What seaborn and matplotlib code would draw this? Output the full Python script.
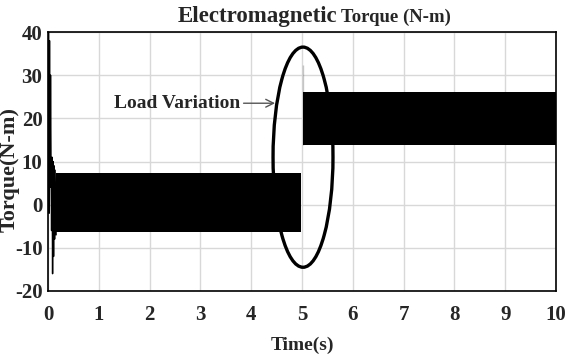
import numpy as np
import pandas as pd
import matplotlib
matplotlib.use("Agg")
import matplotlib.pyplot as plt
import seaborn as sns
from matplotlib.patches import Ellipse

# ---- data ----
# start-up transient (s, N-m)
transient_t = [0.0, 0.01, 0.02, 0.03, 0.04, 0.05, 0.06, 0.07, 0.08, 0.09, 0.10, 0.11, 0.12, 0.13, 0.14, 0.16]
transient_v = [0.0, 40.0, -2.0, 38.0, 4.0, 30.0, 9.0, -6.0, 11.0, -16.0, 10.0, -12.0, 9.0, -8.0, 8.0, -7.0]
# ripple envelope of the torque (before / after load change)
band_t     = [0.16, 4.99, 5.02, 10.0]
band_upper = [7.3, 7.3, 26.2, 26.2]
band_lower = [-6.3, -6.3, 13.8, 13.8]
band_seg   = [1, 1, 2, 2]
# load-change spike
spike_t = [5.02, 5.02]
spike_v = [13.8, 32.4]

x_ticks = [0, 1, 2, 3, 4, 5, 6, 7, 8, 9, 10]
y_ticks = [-20, -10, 0, 10, 20, 30, 40]

sns.set_style("whitegrid")
plt.rcParams['font.family'] = ['Liberation Serif', 'DejaVu Serif']
plt.rcParams['font.weight'] = 'bold'

fig = plt.figure(figsize=(5.67, 3.54), dpi=100)
ax = fig.add_axes([48/567, 1 - 291/354, (556-48)/567, (291-32)/354])

df_tr = pd.DataFrame({"t": transient_t, "v": transient_v})
sns.lineplot(data=df_tr, x="t", y="v", ax=ax, color="black", linewidth=1.0, sort=False)

bt = np.array(band_t); bu = np.array(band_upper); bl = np.array(band_lower); bs = np.array(band_seg)
for s in (1, 2):
    m = bs == s
    ax.fill_between(bt[m], bl[m], bu[m], color="black", linewidth=0)

df_sp = pd.DataFrame({"t": spike_t, "v": spike_v})
sns.lineplot(data=df_sp, x="t", y="v", ax=ax, color="black", linewidth=1.5, sort=False)

ax.add_patch(Ellipse((5.02, 11.0), 1.18, 51.0, fill=False, edgecolor="black", linewidth=2.4, zorder=5))

ax.annotate("Load Variation", xy=(4.47, 23.5), xytext=(1.3, 23.5),
            fontsize=14, fontweight="bold", va="center", ha="left",
            arrowprops=dict(arrowstyle="->", color="#555555", lw=1.0, shrinkA=0, shrinkB=0))

ax.set_xlim(0, 10)
ax.set_ylim(-20, 40)
ax.set_xticks(x_ticks)
ax.set_yticks(y_ticks)
ax.set_xticklabels([str(v) for v in x_ticks], fontsize=15, fontweight="bold")
ax.set_yticklabels([str(v) for v in y_ticks], fontsize=15, fontweight="bold")
ax.grid(True, color="#d8d8d8", linewidth=1.0)
for sp in ax.spines.values():
    sp.set_color("black")
    sp.set_linewidth(1.2)
ax.tick_params(axis="x", direction="in", length=3, color="black", pad=10)
ax.tick_params(axis="y", direction="in", length=3, color="black", pad=4)
ax.set_xlabel("Time(s)", fontsize=14, fontweight="bold")
ax.set_ylabel("Torque(N-m)", fontsize=16, fontweight="bold")
ax.xaxis.set_label_coords(0.5, (291-345)/259, transform=ax.transAxes)
ax.yaxis.set_label_coords((10-48)/508, (291-170)/259, transform=ax.transAxes)
ax.xaxis.label.set_va("center")
ax.yaxis.label.set_va("center")

fig.text(337/567, 1 - 22/354, "Electromagnetic", ha="right", va="baseline", fontsize=16.5, fontweight="bold")
fig.text(341/567, 1 - 22/354, "Torque (N-m)", ha="left", va="baseline", fontsize=13.5, fontweight="bold")

fig.savefig("out.png", dpi=100)
